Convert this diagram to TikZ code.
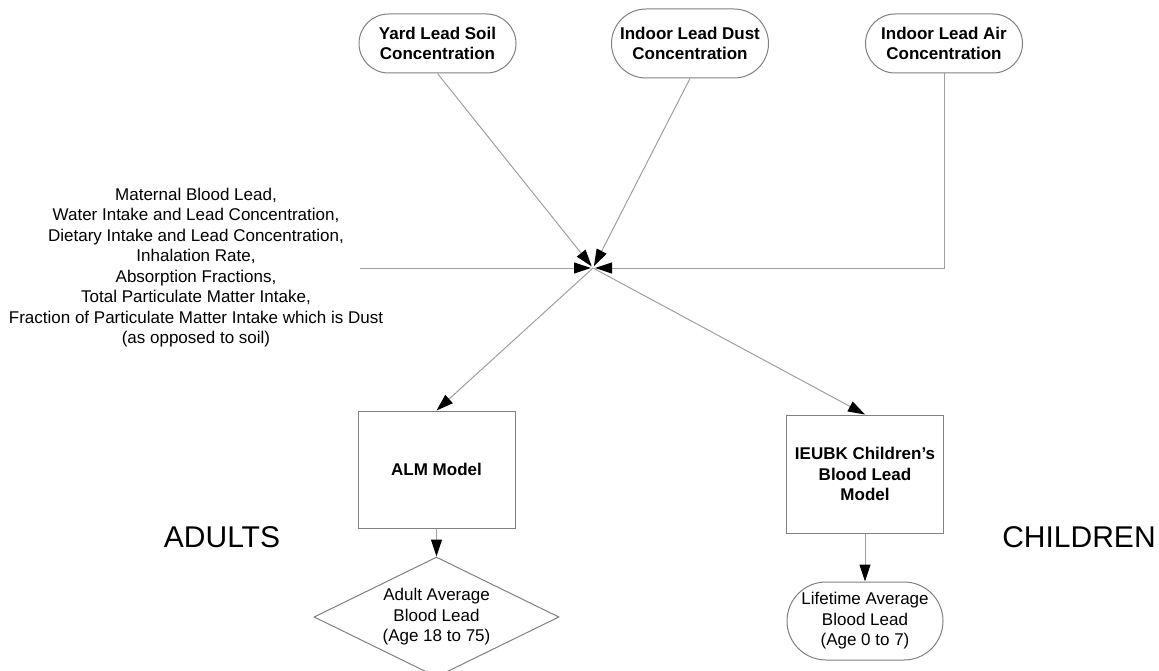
\documentclass[tikz,border=0pt]{standalone}
\usepackage{fontspec}
\setmainfont{Liberation Sans}
\usepackage{tikz}
\usetikzlibrary{positioning,shapes,arrows.meta}

\begin{document}
\begin{tikzpicture}[x=1pt,y=-1pt,
  txt/.style={font=\fontsize{17}{20.5}\selectfont,align=center,inner sep=0pt},
  head/.style={txt,font=\fontsize{17}{20.5}\selectfont\bfseries},
  group/.style={font=\fontsize{30}{36}\selectfont,inner sep=0pt},
  oval/.style={draw=gray,line width=1pt,shape=rounded rectangle,minimum width=157pt,minimum height=59pt},
  modelbox/.style={draw=gray,line width=1pt,shape=rectangle,minimum width=157pt,minimum height=117pt},
  decision/.style={draw=gray,line width=1pt,shape=diamond,shape aspect=2.05,minimum width=245pt,minimum height=120pt},
  flow/.style={draw=gray!75,line width=1pt,-{Triangle[length=17pt,width=11pt,color=black]}}]
\useasboundingbox (0,0) rectangle (1159,671);

%% concentrations on top
\draw node (soil) at (437.5,43.5) [oval,head]{Yard Lead Soil\\Concentration};
\draw node (dust) at (690,43.5) [oval,head,minimum height=69pt]{Indoor Lead Dust\\Concentration};
\draw node (air) at (944,43.5) [oval,head]{Indoor Lead Air\\Concentration};

\draw node (inputs) at (196,267.5) [txt]{Maternal Blood Lead,\\
  Water Intake and Lead Concentration,\\
  Dietary Intake and Lead Concentration,\\
  Inhalation Rate,\\
  Absorption Fractions,\\
  Total Particulate Matter Intake,\\
  Fraction of Particulate Matter Intake which is Dust\\
  (as opposed to soil)};
\coordinate (feed) at (360,268);
\coordinate (hub) at (593,268);

%% the two models
\draw node (alm) at (436.5,469.5) [modelbox,head]{ALM Model};
\draw node (kid) at (865,474) [modelbox,head,minimum height=118pt]{IEUBK Children's\\Blood Lead\\Model};
\draw node (adult) at (436.5,617) [decision,txt]{Adult Average\\Blood Lead\\(Age 18 to 75)};
\draw node (life) at (865,621) [oval,txt,minimum width=156pt,minimum height=78pt]{Lifetime Average\\Blood Lead\\(Age 0 to 7)};

\draw node (adults) at (222,537) [group]{ADULTS};
\draw node (children) at (1079,537) [group]{CHILDREN};

\draw[flow,shorten >=2pt] (soil.south) -- (hub);
\draw[flow,shorten >=2pt] (dust.south) -- (hub);
\draw[flow,shorten >=2pt] (air.south) |- (hub);
\draw[flow,shorten >=2pt] (feed) -- (hub);
\draw[flow] (hub) -- (alm.north);
\draw[flow] (hub) -- (kid.north);
\draw[flow] (alm.south) -- (adult.north);
\draw[flow] (kid.south) -- (life.north);
\end{tikzpicture}
\end{document}
